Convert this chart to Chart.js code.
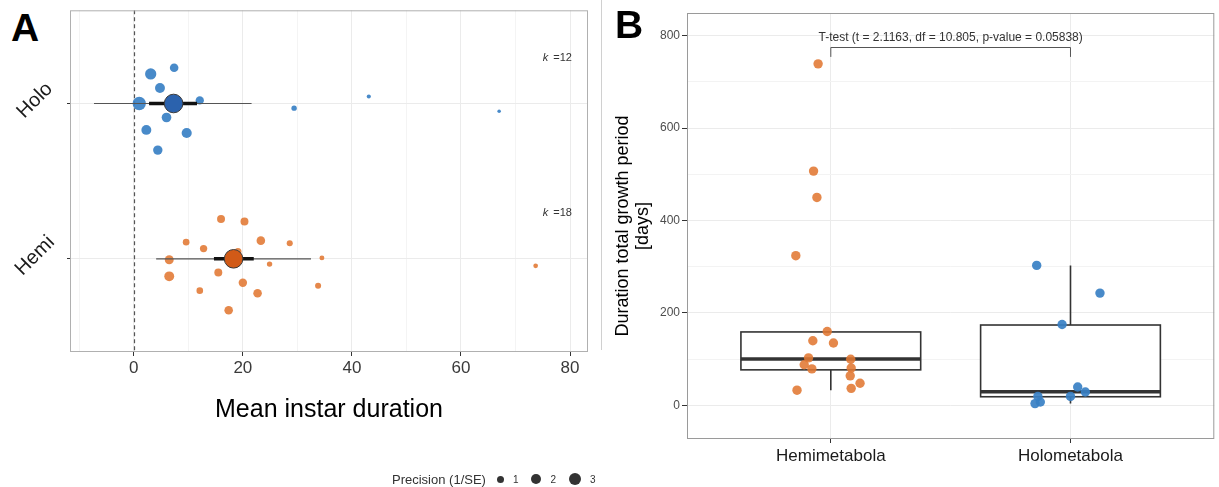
<!DOCTYPE html>
<html lang="en">
<head>
    <meta charset="UTF-8">
    <title>Instar duration and total growth period</title>
    <style>
        body {
            margin: 0;
            width: 1219px;
            height: 487px;
            background: #fff;
            font-family: "Liberation Sans", Arial, sans-serif;
            position: relative;
            overflow: hidden;
        }
        .panel-tag {
            position: absolute;
            font-weight: bold;
            font-size: 39px;
            line-height: 1;
            color: #000;
        }
        #panelA { position: absolute; left: 0; top: 0; }
        #panelB { position: absolute; left: 600px; top: 0; }
        #divider {
            position: absolute;
            left: 601px;
            top: 0;
            width: 1px;
            height: 350px;
            background: #d0d0d0;
        }
        #legend {
            position: absolute;
            left: 392px;
            top: 470px;
            height: 18px;
            display: flex;
            align-items: center;
            font-size: 13px;
            color: #333;
        }
        #legend .dot {
            display: inline-block;
            border-radius: 50%;
            background: #333;
            margin: 0 9px 0 0;
        }
        #legend .lbl { font-size: 10px; margin-right: 13px; color: #333; }
        #legend .title { margin-right: 11px; color: #333; }
    </style>
    <script src="https://cdn.jsdelivr.net/npm/chart.js"></script>
</head>
<body>
    <div class="panel-tag" style="left: 11px; top: 8px;">A</div>
    <canvas id="panelA" width="600" height="440"></canvas>
    <div id="divider"></div>
    <canvas id="panelB" width="619" height="487"></canvas>
    <div class="panel-tag" style="left: 615px; top: 5px;">B</div>
    <div id="legend"></div>

    <script>
        // ---- Panel A: mean instar duration per study ----
        const groups = ['Hemi', 'Holo'];
        const studyCount = [18, 12];

        const holoDur  = [7.4, 3.1, 4.8, 1.0, 12.1, 6.0, 2.3, 9.7, 4.4, 29.4, 43.1, 67.0];
        const holoRow  = [2.23, 2.19, 2.10, 2.00, 2.02, 1.91, 1.83, 1.81, 1.70, 1.97, 2.045, 1.95];
        const holoPrec = [1.5, 2.6, 2.0, 3.6, 1.4, 1.9, 2.0, 2.1, 1.8, 0.6, 0.35, 0.25];

        const hemiDur  = [16.0, 20.3, 9.6, 12.8, 23.3, 28.6, 6.5, 19.1, 24.9, 34.5, 6.5, 15.5, 20.0, 12.1, 22.7, 33.8, 17.4, 73.7];
        const hemiRow  = [1.256, 1.24, 1.107, 1.066, 1.117, 1.10, 0.994, 1.047, 0.966, 1.006, 0.887, 0.912, 0.846, 0.795, 0.778, 0.827, 0.669, 0.955];
        const hemiPrec = [1.3, 1.3, 0.9, 1.1, 1.5, 0.75, 1.65, 1.0, 0.6, 0.5, 2.0, 1.3, 1.45, 0.9, 1.5, 0.75, 1.5, 0.45];

        // pooled estimate, 95% CI (thick) and prediction interval (thin), Hemi then Holo
        const pooledMean = [18.3, 7.3];
        const ciLow   = [14.7, 2.8];
        const ciHigh  = [22.0, 11.6];
        const piLow   = [4.1, -7.3];
        const piHigh  = [32.5, 21.6];

        const legendPrec = [1, 2, 3];

        // ---- Panel B: total growth period ----
        const boxCats = ['Hemimetabola', 'Holometabola'];
        const hemiTotal  = [739, 507, 450, 324, 160, 140, 135, 103, 100, 88, 79, 81, 64, 48, 37, 33];
        const hemiTotalX = [0.947, 0.928, 0.942, 0.854, 0.985, 0.925, 1.011, 0.907, 1.083, 0.889, 0.921, 1.085, 1.081, 1.122, 1.085, 0.859];
        const holoTotal  = [303, 243, 175, 40, 29, 19.5, 19.5, 7.4, 4];
        const holoTotalX = [1.859, 2.123, 1.965, 2.03, 2.062, 2.0, 1.864, 1.874, 1.852];

        const boxLow  = [33, 4];
        const boxQ1   = [77, 18.8];
        const boxMed  = [100.4, 29.7];
        const boxQ3   = [159, 174];
        const boxHigh = [160, 303];

        const testLabel = 'T-test (t = 2.1163, df = 10.805, p-value = 0.05838)';
        const bracketLow = 754;
        const bracketHigh = 775;
        const labelAt = 788;

        // colours
        const blue = 'rgba(56, 128, 196, 0.92)';
        const orange = 'rgba(225, 120, 50, 0.88)';
        const blueDark = '#2b62ad';
        const orangeDark = '#d15a17';

        Chart.defaults.font.family = '"Liberation Sans", Arial, sans-serif';
        Chart.defaults.animation = false;

        const precRadius = p => 3.5 * Math.sqrt(p);
        const toPts = (xs, ys) => xs.map((v, i) => ({ x: v, y: ys[i] }));

        // plot frame like a ggplot panel border
        const frame = color => ({
            id: 'frame',
            afterDraw(chart) {
                const { ctx, chartArea: a } = chart;
                ctx.save();
                ctx.strokeStyle = color;
                ctx.lineWidth = 1;
                ctx.strokeRect(a.left + 0.5, a.top + 0.5, a.right - a.left - 1, a.bottom - a.top - 1);
                ctx.restore();
            }
        });

        const panelAExtras = {
            id: 'panelAExtras',
            beforeDatasetsDraw(chart) {
                const { ctx, chartArea: a, scales: { x } } = chart;
                const px = Math.round(x.getPixelForValue(0)) + 0.5;
                ctx.save();
                ctx.strokeStyle = '#555';
                ctx.lineWidth = 1.2;
                ctx.setLineDash([4, 3]);
                ctx.beginPath();
                ctx.moveTo(px, a.top);
                ctx.lineTo(px, a.bottom);
                ctx.stroke();
                ctx.restore();
            },
            afterDraw(chart) {
                const { ctx, chartArea: a, scales: { x, y } } = chart;
                ctx.save();
                // rotated group labels
                ctx.fillStyle = '#1a1a1a';
                ctx.font = '20px "Liberation Sans", Arial, sans-serif';
                ctx.textAlign = 'center';
                ctx.textBaseline = 'middle';
                groups.forEach((g, i) => {
                    ctx.save();
                    ctx.translate(a.left - 35, y.getPixelForValue(i + 1) - 3);
                    ctx.rotate(-Math.PI / 4);
                    ctx.fillText(g, 0, 0);
                    ctx.restore();
                });
                // number of studies
                ctx.fillStyle = '#333';
                ctx.textAlign = 'left';
                groups.forEach((g, i) => {
                    const px = x.getPixelForValue(75);
                    const py = y.getPixelForValue(i + 1.295);
                    ctx.font = 'italic 11px "Liberation Sans", Arial, sans-serif';
                    ctx.fillText('k', px, py);
                    const kw = ctx.measureText('k').width;
                    ctx.font = '11px "Liberation Sans", Arial, sans-serif';
                    ctx.fillText(' =' + studyCount[i], px + kw + 2, py);
                });
                ctx.restore();
            }
        };

        new Chart(document.getElementById('panelA'), {
            type: 'scatter',
            data: {
                datasets: [
                    {
                        data: pooledMean.map((v, i) => ({ x: v, y: i + 1 })),
                        backgroundColor: [orangeDark, blueDark],
                        borderColor: '#3a3a3a',
                        borderWidth: 1,
                        pointRadius: 9.3
                    },
                    ...groups.map((g, i) => ({
                        data: [{ x: ciLow[i], y: i + 1 }, { x: ciHigh[i], y: i + 1 }],
                        showLine: true,
                        borderColor: '#111',
                        borderWidth: 3.5,
                        pointRadius: 0
                    })),
                    ...groups.map((g, i) => ({
                        data: [{ x: piLow[i], y: i + 1 }, { x: piHigh[i], y: i + 1 }],
                        showLine: true,
                        borderColor: '#555',
                        borderWidth: 1.2,
                        pointRadius: 0
                    })),
                    {
                        data: toPts(holoDur, holoRow),
                        backgroundColor: blue,
                        borderWidth: 0,
                        pointRadius: holoPrec.map(precRadius)
                    },
                    {
                        data: toPts(hemiDur, hemiRow),
                        backgroundColor: orange,
                        borderWidth: 0,
                        pointRadius: hemiPrec.map(precRadius)
                    }
                ]
            },
            options: {
                responsive: false,
                layout: { padding: { top: 8, right: 12, left: 0, bottom: 0 } },
                plugins: { legend: { display: false }, tooltip: { enabled: false } },
                scales: {
                    x: {
                        type: 'linear',
                        min: -11.7,
                        max: 83.3,
                        afterFit: s => { s.height = 88; },
                        border: { display: false },
                        grid: {
                            color: c => (c.tick.value % 20 === 0 ? '#ebebeb' : '#f4f4f4'),
                            tickColor: c => (c.tick.value % 20 === 0 ? '#333' : 'rgba(0,0,0,0)'),
                            tickLength: 4
                        },
                        ticks: {
                            stepSize: 10,
                            includeBounds: false,
                            autoSkip: false,
                            maxRotation: 0,
                            padding: 2,
                            color: '#3a3a3a',
                            font: { size: 17 },
                            callback: v => (v % 20 === 0 ? String(v) : '')
                        },
                        title: {
                            display: true,
                            text: 'Mean instar duration',
                            color: '#000',
                            font: { size: 25 },
                            padding: { top: 0, bottom: 15 }
                        }
                    },
                    y: {
                        type: 'linear',
                        min: 0.4,
                        max: 2.6,
                        afterBuildTicks: s => { s.ticks = [{ value: 1 }, { value: 2 }]; },
                        afterFit: s => { s.width = 70; },
                        border: { display: false },
                        grid: { color: '#ebebeb', tickColor: '#333', tickLength: 3 },
                        ticks: { display: false }
                    }
                }
            },
            plugins: [panelAExtras, frame('#b0b0b0')]
        });

        // size legend for precision
        const legend = document.getElementById('legend');
        legend.innerHTML = '<span class="title">Precision (1/SE)</span>' + legendPrec.map(p => {
            const d = 2 * precRadius(p);
            return `<span class="dot" style="width:${d}px;height:${d}px"></span><span class="lbl">${p}</span>`;
        }).join('');

        const panelBExtras = {
            id: 'panelBExtras',
            beforeDatasetsDraw(chart) {
                const { ctx, scales: { x, y } } = chart;
                ctx.save();
                ctx.strokeStyle = '#333';
                boxCats.forEach((c, i) => {
                    const cx = x.getPixelForValue(i + 1);
                    const l = x.getPixelForValue(i + 1 - 0.375);
                    const r = x.getPixelForValue(i + 1 + 0.375);
                    const q1 = y.getPixelForValue(boxQ1[i]);
                    const q3 = y.getPixelForValue(boxQ3[i]);
                    const md = y.getPixelForValue(boxMed[i]);
                    // whiskers
                    ctx.lineWidth = 1.6;
                    ctx.beginPath();
                    ctx.moveTo(cx, q3);
                    ctx.lineTo(cx, y.getPixelForValue(boxHigh[i]));
                    ctx.moveTo(cx, q1);
                    ctx.lineTo(cx, y.getPixelForValue(boxLow[i]));
                    ctx.stroke();
                    // box
                    ctx.fillStyle = '#fff';
                    ctx.fillRect(l, q3, r - l, q1 - q3);
                    ctx.strokeRect(l, q3, r - l, q1 - q3);
                    // median
                    ctx.lineWidth = 3.5;
                    ctx.beginPath();
                    ctx.moveTo(l, md);
                    ctx.lineTo(r, md);
                    ctx.stroke();
                });
                ctx.restore();
            },
            afterDatasetsDraw(chart) {
                const { ctx, scales: { x, y } } = chart;
                const x1 = x.getPixelForValue(1), x2 = x.getPixelForValue(2);
                const yl = y.getPixelForValue(bracketLow), yh = Math.round(y.getPixelForValue(bracketHigh)) + 0.5;
                ctx.save();
                ctx.strokeStyle = '#555';
                ctx.lineWidth = 1;
                ctx.beginPath();
                ctx.moveTo(x1, yl);
                ctx.lineTo(x1, yh);
                ctx.lineTo(x2, yh);
                ctx.lineTo(x2, yl);
                ctx.stroke();
                ctx.fillStyle = '#333';
                ctx.font = '12px "Liberation Sans", Arial, sans-serif';
                ctx.textAlign = 'center';
                ctx.textBaseline = 'alphabetic';
                ctx.fillText(testLabel, (x1 + x2) / 2, y.getPixelForValue(labelAt));
                ctx.restore();
            }
        };

        new Chart(document.getElementById('panelB'), {
            type: 'scatter',
            data: {
                datasets: [
                    {
                        data: toPts(hemiTotalX, hemiTotal),
                        backgroundColor: orange,
                        borderWidth: 0,
                        pointRadius: 4.7
                    },
                    {
                        data: toPts(holoTotalX, holoTotal),
                        backgroundColor: blue,
                        borderWidth: 0,
                        pointRadius: 4.7
                    }
                ]
            },
            options: {
                responsive: false,
                layout: { padding: { top: 13, right: 2, left: 0, bottom: 0 } },
                plugins: { legend: { display: false }, tooltip: { enabled: false } },
                scales: {
                    x: {
                        type: 'linear',
                        min: 0.4,
                        max: 2.6,
                        afterBuildTicks: s => { s.ticks = [{ value: 1 }, { value: 2 }]; },
                        afterFit: s => { s.height = 48; },
                        border: { display: false },
                        grid: { color: '#ebebeb', tickColor: '#333', tickLength: 4 },
                        ticks: {
                            autoSkip: false,
                            maxRotation: 0,
                            padding: 3,
                            color: '#1a1a1a',
                            font: { size: 17 },
                            callback: v => boxCats[v - 1]
                        }
                    },
                    y: {
                        type: 'linear',
                        min: -72.6,
                        max: 849,
                        afterFit: s => { s.width = 87; },
                        border: { display: false },
                        grid: {
                            color: c => (c.tick.value % 200 === 0 ? '#ebebeb' : '#f3f3f3'),
                            tickColor: c => (c.tick.value % 200 === 0 ? '#333' : 'rgba(0,0,0,0)'),
                            tickLength: 5
                        },
                        ticks: {
                            stepSize: 100,
                            includeBounds: false,
                            autoSkip: false,
                            padding: 2,
                            color: '#4d4d4d',
                            font: { size: 12 },
                            callback: v => (v % 200 === 0 ? String(v) : '')
                        },
                        title: {
                            display: true,
                            text: ['Duration total growth period', '[days]'],
                            color: '#000',
                            font: { size: 18, lineHeight: 1.1 },
                            padding: { top: 13, bottom: 0 }
                        }
                    }
                }
            },
            plugins: [panelBExtras, frame('#9a9a9a')]
        });
    </script>
</body>
</html>
